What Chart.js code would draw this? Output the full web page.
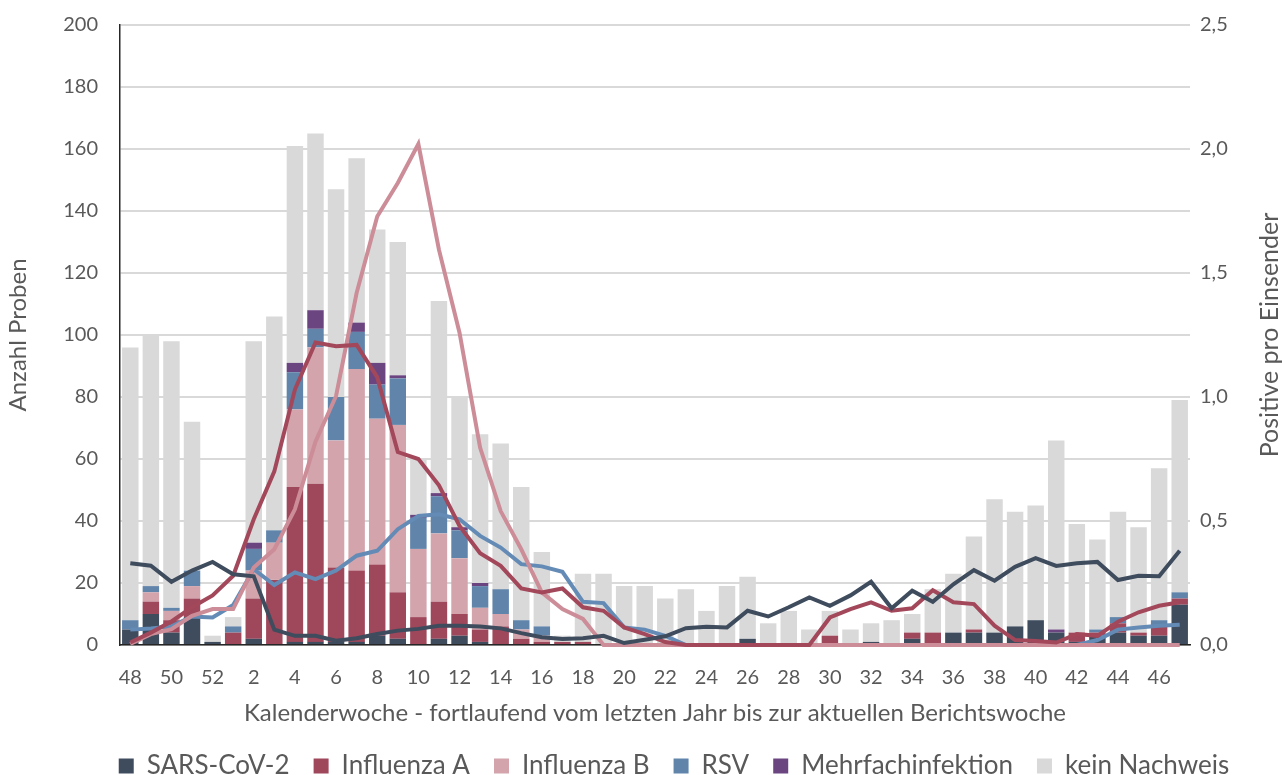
<!DOCTYPE html>
<html>
<head>
<meta charset="utf-8">
<script src="https://cdn.jsdelivr.net/npm/chart.js@4/dist/chart.umd.min.js"></script>
<style>
html,body{margin:0;padding:0;background:#fff;overflow:hidden;}
#wrap{width:1284px;height:775px;position:relative;overflow:hidden;}
</style>
</head>
<body>
<div id="wrap"><canvas id="c" width="1284" height="775"></canvas></div>
<script>
const weeks = ["48","49","50","51","52","1","2","3","4","5","6","7","8","9","10","11","12","13","14","15","16","17","18","19","20","21","22","23","24","25","26","27","28","29","30","31","32","33","34","35","36","37","38","39","40","41","42","43","44","45","46","47"];

const totalSamples = [96,100,98,72,3,9,98,106,161,165,147,157,134,130,60,111,80,68,65,51,30,3,23,23,19,19,15,18,11,19,22,7,11,5,11,5,7,8,10,18,23,35,47,43,45,66,39,34,43,38,57,79];
const sarsBars  = [5,10,4,9,1,0,2,0,1,1,1,1,3,2,0,2,3,1,0,0,0,0,0,0,0,0,0,0,0,0,2,0,0,0,0,0,1,0,2,0,4,4,4,6,8,4,1,3,4,3,3,13];
const fluABars  = [0,4,4,6,0,4,13,21,50,51,24,23,23,15,9,12,7,4,6,2,1,1,1,0,0,0,0,0,0,0,0,0,0,0,3,0,0,0,2,4,0,1,0,0,0,0,3,1,3,1,3,2];
const fluBBars  = [0,3,3,4,0,0,9,12,25,44,41,65,47,54,22,22,18,7,4,3,2,0,0,0,0,0,0,0,0,0,0,0,0,0,0,0,0,0,0,0,0,0,0,0,0,0,0,0,0,0,0,0];
const rsvBars   = [3,2,1,5,0,2,7,4,12,6,14,12,11,15,10,12,9,7,8,3,3,0,0,0,0,0,0,0,0,0,0,0,0,0,0,0,0,0,0,0,0,0,0,0,0,0,0,1,2,0,2,2];
const multiBars = [0,0,0,0,0,0,2,0,3,6,0,3,7,1,1,1,1,1,0,0,0,0,0,0,0,0,0,0,0,0,0,0,0,0,0,0,0,0,0,0,0,0,0,0,0,1,0,0,0,0,0,0];

const sarsLine = [0.33,0.32,0.255,0.30,0.335,0.285,0.277,0.062,0.037,0.037,0.017,0.027,0.044,0.058,0.065,0.078,0.078,0.075,0.067,0.048,0.031,0.024,0.027,0.037,0.008,0.021,0.035,0.068,0.074,0.071,0.138,0.115,0.152,0.192,0.158,0.20,0.255,0.148,0.219,0.174,0.245,0.302,0.259,0.315,0.35,0.319,0.33,0.335,0.262,0.279,0.277,0.38];
const fluALine = [0.01,0.05,0.095,0.152,0.2,0.279,0.507,0.70,1.03,1.22,1.205,1.21,1.08,0.778,0.75,0.644,0.48,0.37,0.319,0.228,0.212,0.228,0.152,0.138,0.071,0.044,0.012,0,0,0,0,0,0,0,0.111,0.145,0.172,0.138,0.148,0.221,0.172,0.165,0.078,0.02,0.016,0.01,0.044,0.037,0.094,0.132,0.158,0.172];
const fluBLine = [0.004,0.044,0.064,0.118,0.145,0.145,0.313,0.386,0.547,0.82,1.004,1.42,1.728,1.863,2.02,1.594,1.259,0.796,0.54,0.386,0.212,0.145,0.105,0,0,0,0,0,0,0,0,0,0,0,0,0,0,0,0,0,0,0,0,0,0,0,0,0,0,0,0,0];
const rsvLine  = [0.062,0.067,0.075,0.115,0.111,0.161,0.306,0.242,0.293,0.266,0.30,0.36,0.38,0.467,0.52,0.527,0.507,0.44,0.393,0.326,0.317,0.295,0.174,0.169,0.071,0.062,0.037,0,0,0,0,0,0,0,0,0,0,0,0,0,0,0,0,0,0,0,0,0.02,0.062,0.071,0.078,0.082];

const leftTicks = [0,20,40,60,80,100,120,140,160,180,200];
const rightTicks = ["0,0","0,5","1,0","1,5","2,0","2,5"];

const noneBars = totalSamples.map((t,i)=> t - sarsBars[i]-fluABars[i]-fluBBars[i]-rsvBars[i]-multiBars[i]);

const C = {sars:'#3e4c5e', fluA:'#9f475b', fluB:'#d3a4ac', rsv:'#6084aa', multi:'#6b4580', none:'#d9d9d9',
  fluALine:'#a3485b', fluBLine:'#cc8d98', rsvLine:'#648bb5', sarsLine:'#3e4c5e'};
const FONT = "Lato, 'Open Sans', sans-serif";
const TXT = '#595959';

function bar(label,data,color){
  return {type:'bar',label,data,backgroundColor:color,stack:'s',yAxisID:'y',order:2,categoryPercentage:0.8,barPercentage:1.0};
}
function line(label,data,color){
  return {type:'line',label,data,borderColor:color,backgroundColor:color,borderWidth:4,pointRadius:0,yAxisID:'y2',order:1,tension:0,clip:false};
}

const rightTitle = {
  id:'rightTitle',
  afterLayout(chart){
    if (chart.legend){ chart.legend.left += 32; chart.legend.right += 32; }
  },
  afterDraw(chart){
    const ctx = chart.ctx;
    const a = chart.chartArea;
    ctx.save();
    ctx.translate(1270,(a.top+a.bottom)/2);
    ctx.rotate(-Math.PI/2);
    ctx.fillStyle = TXT;
    ctx.font = "25px " + FONT;
    ctx.textAlign='center';
    ctx.textBaseline='middle';
    ctx.fillText('Positive pro Einsender',0,0);
    ctx.restore();
  }
};

new Chart(document.getElementById('c'),{
  data:{
    labels:weeks,
    datasets:[
      bar('SARS-CoV-2',sarsBars,C.sars),
      bar('Influenza A',fluABars,C.fluA),
      bar('Influenza B',fluBBars,C.fluB),
      bar('RSV',rsvBars,C.rsv),
      bar('Mehrfachinfektion',multiBars,C.multi),
      bar('kein Nachweis',noneBars,C.none),
      line('SARS-CoV-2 Positive',sarsLine,C.sarsLine),
      line('Influenza A Positive',fluALine,C.fluALine),
      line('Influenza B Positive',fluBLine,C.fluBLine),
      line('RSV Positive',rsvLine,C.rsvLine)
    ]
  },
  options:{
    responsive:false,
    animation:false,
    layout:{padding:{top:25,left:0,right:0,bottom:-14}},
    plugins:{
      tooltip:{enabled:false},
      legend:{
        position:'bottom',
        labels:{
          filter:(item)=> item.datasetIndex < 6,
          font:{family:FONT,size:26},
          color:TXT,
          boxWidth:15,boxHeight:15,
          padding:24
        }
      }
    },
    scales:{
      x:{
        stacked:true,
        grid:{display:false,drawTicks:false},
        border:{display:true,color:'#262626',width:1.5},
        ticks:{autoSkip:false,maxRotation:0,padding:21,color:TXT,font:{family:FONT,size:20},
          callback:function(v,i){return i%2===0 ? weeks[i] : '';}},
        title:{display:true,text:'Kalenderwoche - fortlaufend vom letzten Jahr bis zur aktuellen Berichtswoche',color:TXT,font:{family:FONT,size:24},padding:{top:4,bottom:1}},
        afterFit:(s)=>{s.height = 84;}
      },
      y:{
        position:'left',stacked:true,min:0,max:200,
        afterBuildTicks:(s)=>{s.ticks = leftTicks.map(v=>({value:v}));},
        grid:{color:'#d9d9d9',lineWidth:2,drawTicks:false},
        border:{display:true,color:'#262626',width:1.5},
        ticks:{padding:22,color:TXT,font:{family:FONT,size:20}},
        title:{display:true,text:'Anzahl Proben',color:TXT,font:{family:FONT,size:24},padding:{top:4,bottom:0}},
        afterFit:(s)=>{s.width = 120; s.paddingTop = 0;}
      },
      y2:{
        position:'right',min:0,max:2.5,
        afterBuildTicks:(s)=>{s.ticks = rightTicks.map((t,i)=>({value:i*0.5}));},
        grid:{display:false,drawTicks:false},
        border:{display:false},
        ticks:{padding:10,color:TXT,font:{family:FONT,size:20},callback:(v,i)=>rightTicks[i]},
        afterFit:(s)=>{s.width = 94; s.paddingTop = 0;}
      }
    }
  },
  plugins:[rightTitle]
});
</script>
</body>
</html>
